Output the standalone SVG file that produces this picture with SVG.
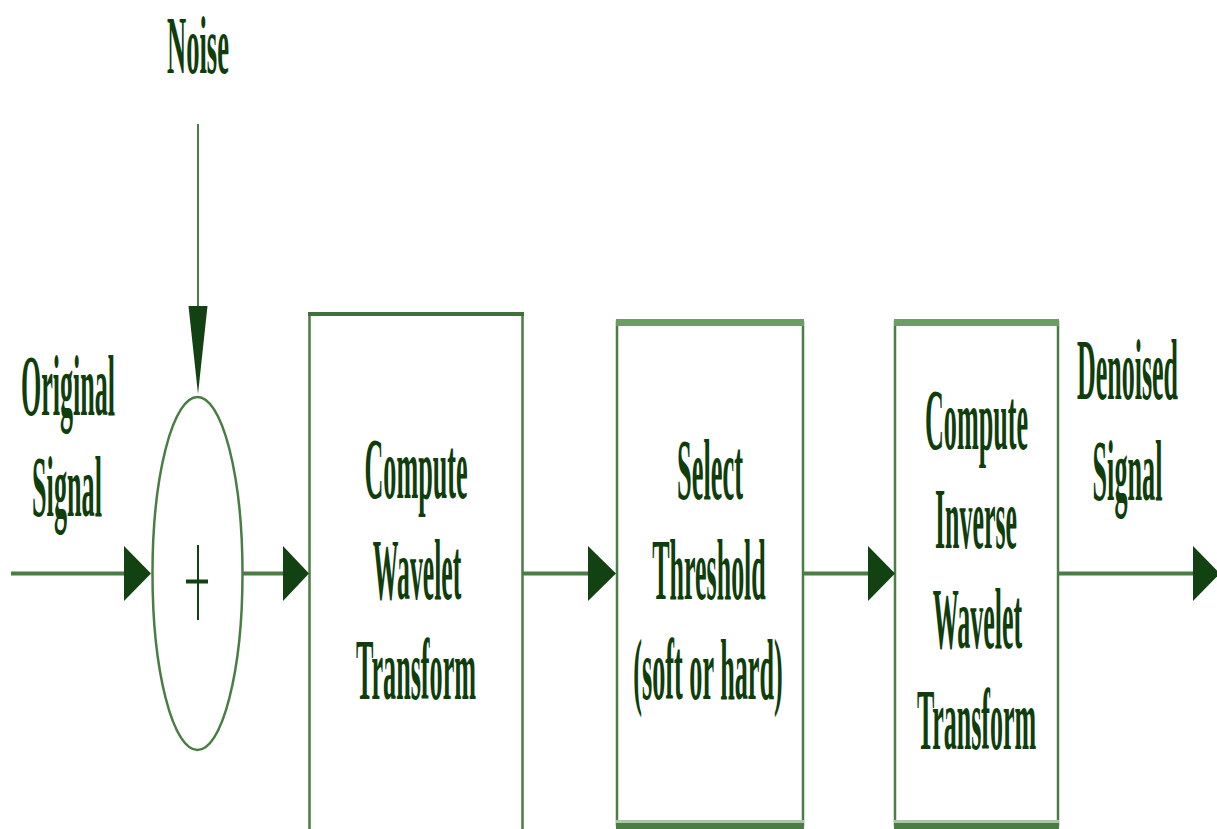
<svg xmlns="http://www.w3.org/2000/svg" width="1217" height="829" viewBox="0 0 1217 829">
  <style>
    .lbl { font-family: "Liberation Serif", "Times New Roman", serif; font-size: 86px; font-weight: bold; fill: #0f3d0c; text-anchor: middle; }
    .edge { stroke: #4a7d44; fill: none; }
    .wire { stroke: #4a7d44; stroke-width: 4; fill: none; }
    .head { fill: #124212; }
  </style>
  <rect x="0" y="0" width="1217" height="829" fill="#ffffff"/>

  <g id="label-noise">
    <text class="lbl" style="font-size:82px" transform="translate(198,73) scale(0.324,1)">Noise</text>
  </g>
  <g id="label-original">
    <text class="lbl" transform="translate(68,415) scale(0.303,1)">Original</text>
    <text class="lbl" transform="translate(67,516) scale(0.305,1)">Signal</text>
  </g>
  <g id="label-denoised">
    <text class="lbl" transform="translate(1127.5,399) scale(0.302,1)">Denoised</text>
    <text class="lbl" transform="translate(1127.5,500) scale(0.305,1)">Signal</text>
  </g>

  <g id="adder">
    <ellipse class="edge" cx="197.5" cy="573.5" rx="45" ry="176.5" stroke-width="2.5"/>
    <line x1="198" y1="545" x2="198" y2="620" stroke="#124212" stroke-width="2"/>
    <line x1="186" y1="581.5" x2="208" y2="581.5" stroke="#124212" stroke-width="4"/>
  </g>

  <g id="box-wavelet">
    <path class="edge" d="M309.5,829 V314 H522.5 V829" stroke-width="2.5"/>
    <line x1="308" y1="314" x2="524" y2="314" stroke="#3f723a" stroke-width="4"/>
    <text class="lbl" transform="translate(416,498) scale(0.304,1)">Compute</text>
    <text class="lbl" transform="translate(417,599) scale(0.299,1)">Wavelet</text>
    <text class="lbl" transform="translate(416,699) scale(0.304,1)">Transform</text>
  </g>

  <g id="box-threshold">
    <rect class="edge" x="617" y="322" width="186" height="503" stroke-width="2.5"/>
    <rect x="616" y="319" width="188" height="7" fill="#6d9c67"/>
    <rect x="616" y="820" width="188" height="3" fill="#a9c7a5"/>
    <rect x="616" y="823" width="188" height="6" fill="#4a7d44"/>
    <text class="lbl" transform="translate(710,499) scale(0.307,1)">Select</text>
    <text class="lbl" transform="translate(709,599) scale(0.302,1)">Threshold</text>
    <text class="lbl" transform="translate(708,699) scale(0.305,1)">(soft or hard)</text>
  </g>

  <g id="box-inverse">
    <rect class="edge" x="895" y="322" width="163" height="503" stroke-width="2.5"/>
    <rect x="894" y="319" width="165" height="7" fill="#6d9c67"/>
    <rect x="894" y="820" width="165" height="3" fill="#a9c7a5"/>
    <rect x="894" y="823" width="165" height="6" fill="#4a7d44"/>
    <text class="lbl" transform="translate(976.5,449) scale(0.304,1)">Compute</text>
    <text class="lbl" transform="translate(976,548) scale(0.301,1)">Inverse</text>
    <text class="lbl" transform="translate(977.5,648) scale(0.302,1)">Wavelet</text>
    <text class="lbl" transform="translate(976.5,749) scale(0.302,1)">Transform</text>
  </g>

  <g id="connectors">
    <line x1="198" y1="124" x2="198" y2="310" stroke="#4a7d44" stroke-width="2"/>
    <polygon class="head" points="188.5,306 207.5,306 198,394"/>

    <line class="wire" x1="11" y1="573.5" x2="126" y2="573.5"/>
    <polygon class="head" points="124,546 151,573.5 124,601"/>

    <line class="wire" x1="243" y1="573.5" x2="285" y2="573.5"/>
    <polygon class="head" points="283,546 309,573.5 283,601"/>

    <line class="wire" x1="523" y1="573.5" x2="590" y2="573.5"/>
    <polygon class="head" points="588,546 616,573.5 588,601"/>

    <line class="wire" x1="803" y1="573.5" x2="870" y2="573.5"/>
    <polygon class="head" points="868,546 895,573.5 868,601"/>

    <line class="wire" x1="1058" y1="573.5" x2="1196" y2="573.5"/>
    <polygon class="head" points="1193,546 1220,573.5 1193,601"/>
  </g>
</svg>
